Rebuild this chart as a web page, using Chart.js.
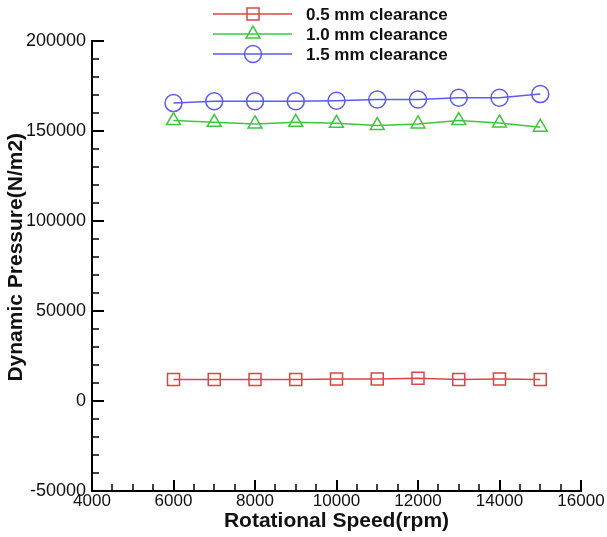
<!DOCTYPE html>
<html>
<head>
<meta charset="utf-8">
<script src="https://cdn.jsdelivr.net/npm/chart.js@4/dist/chart.umd.min.js"></script>
<style>
html,body{margin:0;padding:0;background:#fff;}
#wrap{width:607px;height:537px;position:relative;}
</style>
</head>
<body>
<div id="wrap"><canvas id="c" width="607" height="537"></canvas></div>
<script>
const speeds = [6000, 7000, 8000, 9000, 10000, 11000, 12000, 13000, 14000, 15000];
const clear05 = [12000, 12000, 12000, 12000, 12200, 12200, 12700, 12000, 12200, 12000];
const clear10 = [155800, 154800, 153900, 154800, 154300, 153000, 153900, 155800, 154500, 152100];
const clear15 = [165500, 166500, 166500, 166500, 166800, 167500, 167500, 168500, 168500, 170500];
const seriesNames = ['0.5 mm clearance', '1.0 mm clearance', '1.5 mm clearance'];
const xTicks = [4000, 6000, 8000, 10000, 12000, 14000, 16000];
const yTicks = [-50000, 0, 50000, 100000, 150000, 200000];

const FONT = "Arial, 'Liberation Sans', sans-serif";
const RED = 'rgb(218,70,70)', GREEN = 'rgb(60,200,60)', BLUE = 'rgb(90,90,255)';

function pts(arr){ return speeds.map((s,i)=>({x:s,y:arr[i]})); }

const inwardTicks = {
  id:'inwardTicks',
  afterDraw(chart){
    const ctx = chart.ctx, xs = chart.scales.x, ys = chart.scales.y;
    const left = chart.chartArea.left, bottom = chart.chartArea.bottom;
    ctx.save();
    ctx.strokeStyle = '#000';
    for(let v=-50000; v<=200000; v+=10000){
      const major = v % 50000 === 0;
      const y = Math.round(ys.getPixelForValue(v));
      ctx.lineWidth = major ? 2 : 1.5;
      ctx.beginPath(); ctx.moveTo(left, y); ctx.lineTo(left + (major?12:7), y); ctx.stroke();
    }
    for(let v=4000; v<=16000; v+=500){
      const major = v % 2000 === 0;
      const x = Math.round(xs.getPixelForValue(v));
      ctx.lineWidth = major ? 2 : 1.5;
      ctx.beginPath(); ctx.moveTo(x, bottom); ctx.lineTo(x, bottom - (major?11:7)); ctx.stroke();
    }
    ctx.restore();
  }
};

const customLegend = {
  id:'customLegend',
  afterDraw(chart){
    const ctx = chart.ctx;
    const rows = [14, 34, 54];
    ctx.save();
    chart.data.datasets.forEach((ds,i)=>{
      const y = rows[i];
      ctx.strokeStyle = ds.borderColor; ctx.lineWidth = 1.5;
      ctx.beginPath(); ctx.moveTo(213, y); ctx.lineTo(292, y); ctx.stroke();
      ctx.fillStyle = 'rgba(0,0,0,0)';
      ctx.strokeStyle = ds.pointBorderColor; ctx.lineWidth = 1.5;
      Chart.helpers.drawPoint(ctx, {pointStyle: ds.pointStyle, radius: ds.pointRadius, rotation: 0, borderWidth: 1.5}, 253, y);
      ctx.fillStyle = '#111';
      ctx.font = "bold 17px " + FONT;
      ctx.textBaseline = 'middle';
      ctx.textAlign = 'left';
      ctx.fillText(seriesNames[i], 306, y + 1);
    });
    ctx.restore();
  }
};

function ds(label, arr, color, style, r){
  return {label, data: pts(arr), borderColor: color, backgroundColor: 'rgba(0,0,0,0)',
    pointBorderColor: color, pointBackgroundColor: 'rgba(0,0,0,0)', pointStyle: style,
    pointRadius: r, pointHoverRadius: r, pointBorderWidth: 1.5, borderWidth: 1.5, tension: 0};
}

new Chart(document.getElementById('c'), {
  type: 'line',
  data: { datasets: [
    ds(seriesNames[0], clear05, RED, 'rect', 8.5),
    ds(seriesNames[1], clear10, GREEN, 'triangle', 8),
    ds(seriesNames[2], clear15, BLUE, 'circle', 8.5)
  ]},
  options: {
    responsive: false, animation: false, devicePixelRatio: 1,
    layout: { padding: { top: 41, right: 26, left: 0, bottom: 0 } },
    plugins: { legend: { display: false }, tooltip: { enabled: false } },
    scales: {
      x: {
        type: 'linear', min: 4000, max: 16000,
        afterBuildTicks(s){ s.ticks = xTicks.map(v=>({value:v})); },
        afterFit(s){ s.height = 46; },
        grid: { drawOnChartArea: false, drawTicks: false },
        border: { display: true, color: '#000', width: 2 },
        ticks: { color: '#111', font: { family: FONT, size: 17 }, padding: 0, maxRotation: 0, autoSkip: false,
          callback: v => String(v) },
        title: { display: true, text: 'Rotational Speed(rpm)', color: '#111',
          font: { family: FONT, size: 21, weight: 'bold' }, padding: { top: -3, bottom: 3 } }
      },
      y: {
        type: 'linear', min: -50000, max: 200000,
        afterBuildTicks(s){ s.ticks = yTicks.map(v=>({value:v})); },
        afterFit(s){ s.width = 92; },
        grid: { drawOnChartArea: false, drawTicks: false },
        border: { display: true, color: '#000', width: 2 },
        ticks: { color: '#111', font: { family: FONT, size: 18 }, padding: 6, autoSkip: false,
          callback: v => String(v) },
        title: { display: true, text: '   Dynamic Pressure(N/m2)', color: '#111',
          font: { family: FONT, size: 21, weight: 'bold' }, padding: { top: 4, bottom: 0 } }
      }
    }
  },
  plugins: [inwardTicks, customLegend]
});
</script>
</body>
</html>
